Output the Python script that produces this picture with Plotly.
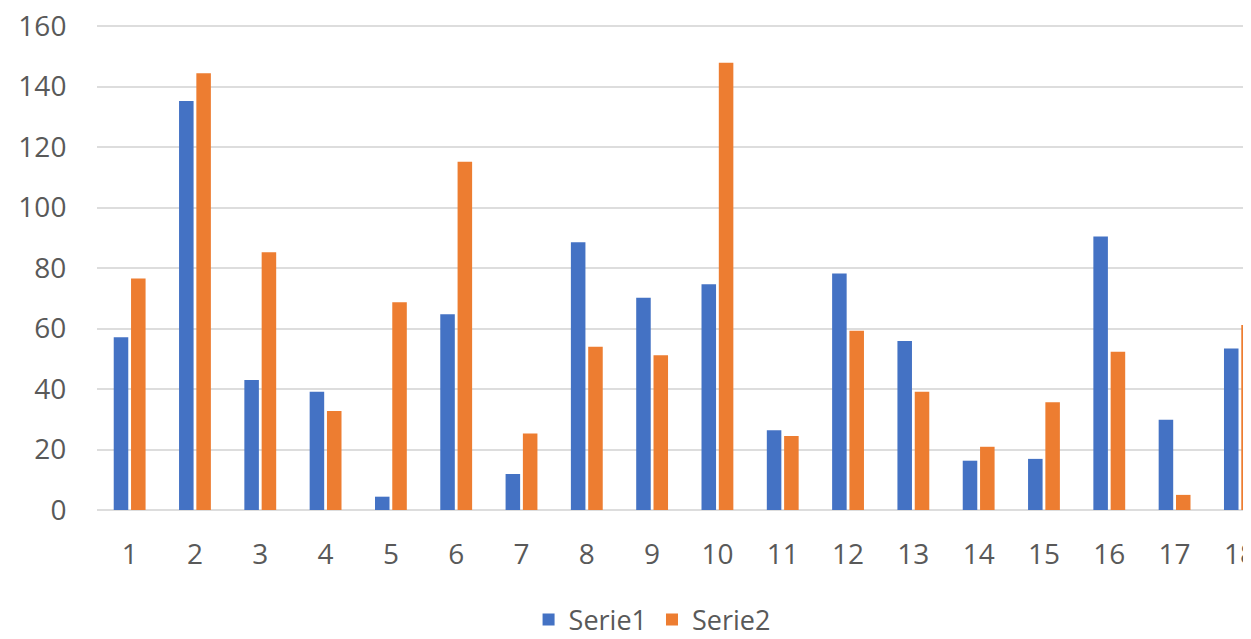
import plotly.graph_objects as go

categories = list(range(1, 19))
serie1 = [57.1, 135.2, 43.0, 39.1, 4.4, 64.7, 11.9, 88.5, 70.2, 74.6, 26.4, 78.2, 55.9, 16.3, 16.9, 90.4, 29.8, 53.4]
serie2 = [76.5, 144.4, 85.2, 32.7, 68.7, 115.1, 25.3, 54.0, 51.2, 147.9, 24.5, 59.3, 39.1, 20.9, 35.6, 52.3, 5.0, 61.2]
y_ticks = [0, 20, 40, 60, 80, 100, 120, 140, 160]

font_family = "Open Sans, Segoe UI, Calibri, sans-serif"
text_color = "#595959"
fs = 28

fig = go.Figure()
fig.add_trace(go.Bar(x=categories, y=serie1, name="Serie1", marker_color="#4472C4", marker_line_width=0))
fig.add_trace(go.Bar(x=categories, y=serie2, name="Serie2", marker_color="#ED7D31", marker_line_width=0))

fig.update_layout(
    width=1243, height=645,
    margin=dict(l=89, r=0, t=15, b=143),
    paper_bgcolor="white", plot_bgcolor="white",
    barmode="group", bargap=0.47, bargroupgap=0.16,
    font=dict(family=font_family, size=fs, color=text_color),
    legend=dict(orientation="h", x=0.481, xanchor="center", y=-0.226, yanchor="middle",
                font=dict(size=27, color=text_color), itemwidth=30, traceorder="normal"),
    showlegend=True,
)
fig.update_xaxes(
    range=[0.5, 18.17], tickmode="array", tickvals=categories, ticktext=[str(c) for c in categories],
    showgrid=False, showline=False, zeroline=False, automargin=False,
    ticks="outside", ticklen=19, tickcolor="rgba(0,0,0,0)",
    tickfont=dict(size=fs, color=text_color), ticklabeloverflow="allow",
)
fig.update_yaxes(
    range=[0, 161], tickmode="array", tickvals=y_ticks, automargin=False,
    showgrid=True, gridcolor="#DDDDDD", gridwidth=2,
    zeroline=True, zerolinecolor="#DDDDDD", zerolinewidth=2,
    showline=False, ticks="outside", ticklen=24, tickcolor="rgba(0,0,0,0)",
    tickfont=dict(size=fs, color=text_color), ticklabeloverflow="allow",
)

fig.write_html("out.html")
